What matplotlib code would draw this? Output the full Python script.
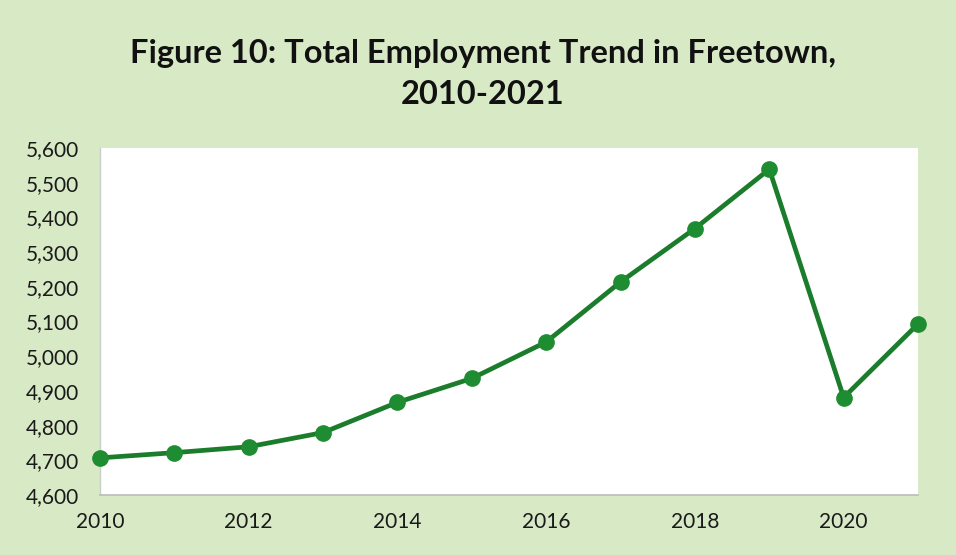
import matplotlib
matplotlib.use("Agg")
import matplotlib.pyplot as plt
from matplotlib.ticker import FuncFormatter, MultipleLocator

years = [2010, 2011, 2012, 2013, 2014, 2015, 2016, 2017, 2018, 2019, 2020, 2021]
employment = [4707, 4722, 4739, 4780, 4867, 4936, 5041, 5214, 5368, 5539, 4881, 5093]
x_ticks = [2010, 2012, 2014, 2016, 2018, 2020]
title = "Figure 10: Total Employment Trend in Freetown,\n2010-2021"

bg = "#d8e9c6"
line_color = "#1b7d2c"
marker_color = "#1e8c31"

fig = plt.figure(figsize=(9.56, 5.55), dpi=100)
fig.patch.set_facecolor(bg)
ax = fig.add_axes([0.1046, 0.1081, 0.8557, 0.6252])
ax.set_facecolor("white")

ax.plot(years, employment, color=line_color, linewidth=3.4,
        marker="o", markersize=11, markerfacecolor=marker_color,
        markeredgecolor=marker_color, clip_on=False, zorder=3)

ax.set_xlim(2010, 2021)
ax.set_ylim(4600, 5600)
ax.set_xticks(x_ticks)
ax.yaxis.set_major_locator(MultipleLocator(100))
ax.yaxis.set_major_formatter(FuncFormatter(lambda v, p: f"{int(v):,}"))

for s in ["top", "right"]:
    ax.spines[s].set_visible(False)
ax.spines["left"].set_color("#c8cfc8")
ax.spines["bottom"].set_color("#b8bdb8")
ax.spines["left"].set_linewidth(1.0)
ax.spines["bottom"].set_linewidth(1.2)

ax.tick_params(axis="both", length=0, labelsize=15, labelcolor="#1a1a1a")
ax.tick_params(axis="y", pad=15)
ax.tick_params(axis="x", pad=12)
for lbl in ax.get_xticklabels() + ax.get_yticklabels():
    lbl.set_fontfamily("Lato")

fig.text(0.505, 0.866, title, ha="center", va="center", fontsize=23.5,
         fontweight="bold", family="Lato", color="#111111", linespacing=1.5)

fig.savefig("out.png", dpi=100, facecolor=bg)
